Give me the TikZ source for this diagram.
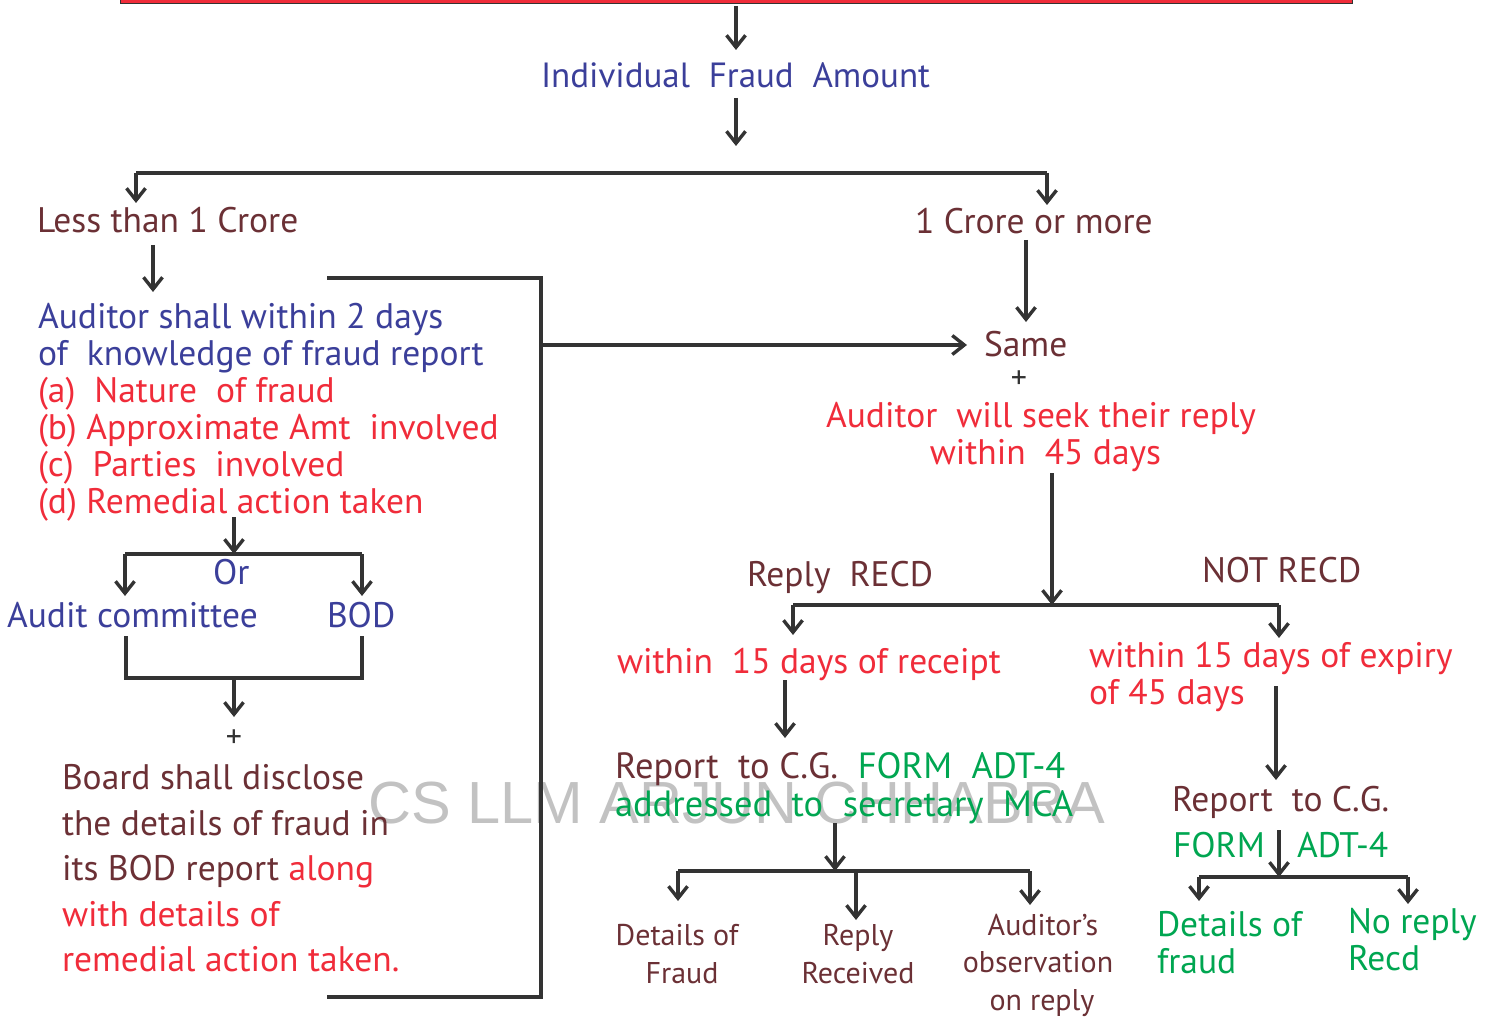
\documentclass[tikz,border=0pt]{standalone}
\usepackage{fontspec}
\setmainfont{PT Sans}
\newfontfamily\wmfont{Liberation Sans}
\usetikzlibrary{arrows.meta}
\definecolor{cblue}{HTML}{3B3F9A}
\definecolor{cbrown}{HTML}{6B3035}
\definecolor{cred}{HTML}{F02C3A}
\definecolor{cgreen}{HTML}{00A651}
\definecolor{cline}{HTML}{333333}
\tikzset{
  x=1pt,y=-1pt,
  txt/.style={anchor=base west,inner sep=0pt,outer sep=0pt,align=left,font=\fontsize{35.5}{37}\selectfont},
  ctxt/.style={txt,anchor=base,align=center},
  small/.style={ctxt,font=\fontsize{30}{37.5}\selectfont},
  plussign/.style={ctxt,text=cline,font=\fontsize{32}{32}\selectfont},
  bl/.style={text=cblue},br/.style={text=cbrown},rd/.style={text=cred},gr/.style={text=cgreen},
  arr/.style={draw=cline,line width=3.4pt,-{Straight Barb[length=12pt,width=19pt,line width=3.4pt]}},
  lin/.style={draw=cline,line width=3.6pt,line join=miter},
}
\begin{document}
\begin{tikzpicture}
\useasboundingbox (0,0) rectangle (1494,1019);
% watermark
\node[anchor=base west,inner sep=0pt,text=black!24,font=\wmfont\fontsize{59.5}{60}\selectfont] (wm) at (368,823) {CS LLM ARJUN CHHABRA};
% red bar
\draw[fill=cred,draw=cline,line width=1pt] (120,-3) rectangle (1352,3.4);
\coordinate (bar) at (736,6);
% texts
\node[txt,bl,font=\fontsize{35}{37}\selectfont] (fraud) at (541,88) {Individual\ \ Fraud\ \ Amount};
\node[txt,br] (less) at (37,233) {Less than 1 Crore};
\node[txt,br] (more) at (915,233.5) {1 Crore or more};
\node[txt,bl] (aud) at (38,513.5) {Auditor shall within 2 days\\of\ \ knowledge of fraud report\\\textcolor{cred}{(a)\ \ Nature\ \ of fraud}\\\textcolor{cred}{(b) Approximate Amt\ \ involved}\\\textcolor{cred}{(c)\ \ Parties\ \ involved}\\\textcolor{cred}{(d) Remedial action taken}};
\node[txt,bl] (or) at (213,584) {Or};
\node[txt,bl] (ac) at (7,627) {Audit committee};
\node[txt,bl] (bod) at (327,627) {BOD};
\node[plussign] (plus1) at (234,747) {+};
\node[txt,br,font=\fontsize{35.5}{45.5}\selectfont] (board) at (62,971.5) {Board shall disclose\\the details of fraud in\\its BOD report \textcolor{cred}{along}\\\textcolor{cred}{with details of}\\\textcolor{cred}{remedial action taken.}};
\node[txt,br] (same) at (984,356) {Same};
\node[plussign] (plus2) at (1019,388) {+};
\node[ctxt,rd] (seek) at (1041,464) {Auditor\ \ will seek their reply\\\hspace*{9pt}within\ \ 45 days};
\node[txt,br] (rr) at (747,586) {Reply\ \ RECD};
\node[txt,br] (nr) at (1202,582) {NOT RECD};
\node[txt,rd] (w1) at (617,673) {within\ \ 15 days of receipt};
\node[txt,rd] (w2) at (1089,704) {within 15 days of expiry\\of 45 days};
\node[txt,br,font=\fontsize{36.5}{37.5}\selectfont] (rep1) at (615,816) {Report\ \ to C.G.\ \ \textcolor{cgreen}{FORM\ \ ADT-4}\\\textcolor{cgreen}{addressed\ \ to\ \ secretary\ \ MCA}};
\node[small,br] (d1) at (677,983) {Details of\\\hspace*{10pt}Fraud};
\node[small,br] (d2) at (858,983) {Reply\\Received};
\node[small,br] (d3) at (1038,1010) {\hspace*{10pt}Auditor's\\observation\\\hspace*{8pt}on reply};
\node[txt,br] (rep2) at (1172,811) {Report\ \ to C.G.};
\node[txt,gr] (form) at (1173,857) {FORM};
\node[txt,gr] (adt) at (1297,857) {ADT-4};
\node[txt,gr] (d4) at (1157,973) {Details of\\fraud};
\node[txt,gr] (d5) at (1348,970) {No reply\\Recd};
% junctions
\coordinate (b1) at (736,173);
\coordinate (b1l) at (136,173);
\coordinate (b1r) at (1047,173);
\coordinate (b2) at (1052,605);
\coordinate (b2l) at (793,605);
\coordinate (b2r) at (1279,605);
\coordinate (b3) at (835,871);
\coordinate (b3l) at (678,871);
\coordinate (b3m) at (856,871);
\coordinate (b3r) at (1030,871);
\coordinate (b4) at (1279,877);
\coordinate (b4l) at (1199,877);
\coordinate (b4r) at (1408,877);
\coordinate (b5) at (234,554);
\coordinate (b5l) at (125,554);
\coordinate (b5r) at (362,554);
\coordinate (b6l) at (126,678);
\coordinate (b6r) at (362,678);
\coordinate (k1) at (327,278);
\coordinate (k2) at (541,278);
\coordinate (k3) at (541,997);
\coordinate (k4) at (327,997);
\coordinate (k5) at (541,345);
% connectors
\draw[arr] (bar) -- (736,50);
\draw[arr] (736,98) -- (736,146);
\draw[lin] (b1l) -- (b1r);
\draw[arr] (b1l) -- (136,203);
\draw[arr] (b1r) -- (1047,205);
\draw[arr] (153,245) -- (153,292);
\draw[arr] (1026,240) -- (1026,322);
\draw[lin] (k1) -- (k2) -- (k3) -- (k4);
\draw[arr,shorten >=17pt] (k5) -- (same.west |- k5);
\draw[arr] (234,517) -- (b5);
\draw[lin] (b5l) -- (b5r);
\draw[arr] (b5l) -- (125,596);
\draw[arr] (b5r) -- (362,596);
\draw[lin] (126,636) -- (b6l) -- (b6r) -- (362,636);
\draw[arr] (234,680) -- (234,717);
\draw[arr] (1052,473) -- (b2);
\draw[lin] (b2l) -- (b2r);
\draw[arr] (b2l) -- (793,635);
\draw[arr] (b2r) -- (1279,638);
\draw[arr] (785,680) -- (785,738);
\draw[arr] (1276,686) -- (1276,780);
\draw[arr] (835,823) -- (b3);
\draw[lin] (b3l) -- (b3r);
\draw[arr] (b3l) -- (678,901);
\draw[arr] (b3m) -- (856,920);
\draw[arr] (b3r) -- (1030,905);
\draw[arr] (1279,830) -- (b4);
\draw[lin] (b4l) -- (b4r);
\draw[arr] (b4l) -- (1199,901);
\draw[arr] (b4r) -- (1408,904);
\end{tikzpicture}
\end{document}
